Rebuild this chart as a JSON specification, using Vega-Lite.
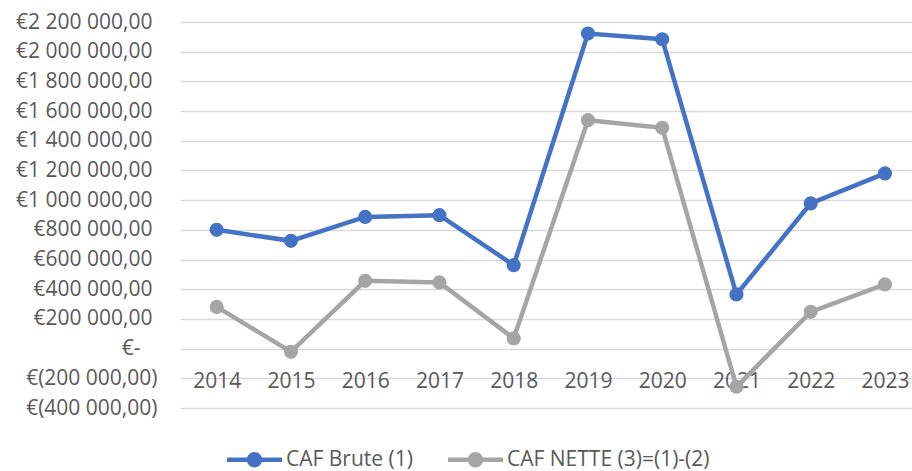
{
  "$schema": "https://vega.github.io/schema/vega-lite/v6.json",
  "width": 732,
  "height": 386,
  "autosize": {"type": "none"},
  "padding": {"left": 180, "top": 22, "right": 0, "bottom": 63},
  "background": "white",
  "config": {"view": {"stroke": null}, "font": "Open Sans"},
  "data": {
    "values": [
      {"year": 2014, "series": "CAF Brute (1)", "value": 800000},
      {"year": 2015, "series": "CAF Brute (1)", "value": 726000},
      {"year": 2016, "series": "CAF Brute (1)", "value": 887000},
      {"year": 2017, "series": "CAF Brute (1)", "value": 899000},
      {"year": 2018, "series": "CAF Brute (1)", "value": 562000},
      {"year": 2019, "series": "CAF Brute (1)", "value": 2122000},
      {"year": 2020, "series": "CAF Brute (1)", "value": 2084000},
      {"year": 2021, "series": "CAF Brute (1)", "value": 365000},
      {"year": 2022, "series": "CAF Brute (1)", "value": 978000},
      {"year": 2023, "series": "CAF Brute (1)", "value": 1180000},
      {"year": 2014, "series": "CAF NETTE (3)=(1)-(2)", "value": 281000},
      {"year": 2015, "series": "CAF NETTE (3)=(1)-(2)", "value": -21500},
      {"year": 2016, "series": "CAF NETTE (3)=(1)-(2)", "value": 456600},
      {"year": 2017, "series": "CAF NETTE (3)=(1)-(2)", "value": 445800},
      {"year": 2018, "series": "CAF NETTE (3)=(1)-(2)", "value": 68700},
      {"year": 2019, "series": "CAF NETTE (3)=(1)-(2)", "value": 1538700},
      {"year": 2020, "series": "CAF NETTE (3)=(1)-(2)", "value": 1487000},
      {"year": 2021, "series": "CAF NETTE (3)=(1)-(2)", "value": -257000},
      {"year": 2022, "series": "CAF NETTE (3)=(1)-(2)", "value": 247800},
      {"year": 2023, "series": "CAF NETTE (3)=(1)-(2)", "value": 432300}
    ]
  },
  "mark": {"type": "line", "strokeWidth": 4.5, "point": {"filled": true, "size": 200}},
  "encoding": {
    "x": {
      "field": "year",
      "type": "quantitative",
      "scale": {"domain": [2013.506, 2023.364], "nice": false, "zero": false},
      "axis": {
        "values": [2014, 2015, 2016, 2017, 2018, 2019, 2020, 2021, 2022, 2023],
        "format": "d",
        "grid": false,
        "domain": false,
        "ticks": false,
        "offset": -38,
        "labelPadding": 0,
        "labelBaseline": "top",
        "labelFontSize": 21,
        "labelColor": "#595959",
        "labelFlush": false,
        "labelOverlap": false,
        "title": null
      }
    },
    "y": {
      "field": "value",
      "type": "quantitative",
      "scale": {"domain": [-400000, 2200000], "nice": false},
      "axis": {
        "values": [-400000, -200000, 0, 200000, 400000, 600000, 800000, 1000000, 1200000, 1400000, 1600000, 1800000, 2000000, 2200000],
        "labelExpr": "datum.value == 0 ? '€-' : (datum.value < 0 ? '€(' + replace(replace(format(-datum.value, ',.2f'), /,/g, ' '), '.', ',') + ')' : '€' + replace(replace(format(datum.value, ',.2f'), /,/g, ' '), '.', ','))",
        "grid": true,
        "gridColor": "#D9D9D9",
        "gridWidth": 1.3,
        "domain": false,
        "ticks": false,
        "labelPadding": {"condition": [{"test": "datum.value == 0", "value": 40}, {"test": "datum.value > 0", "value": 28}], "value": 23},
        "labelFontSize": 21,
        "labelColor": "#595959",
        "labelFlush": false,
        "labelOverlap": false,
        "title": null
      }
    },
    "color": {
      "field": "series",
      "type": "nominal",
      "scale": {"domain": ["CAF Brute (1)", "CAF NETTE (3)=(1)-(2)"], "range": ["#4472C4", "#A5A5A5"]},
      "legend": {
        "orient": "none",
        "legendX": 47,
        "legendY": 410,
        "direction": "horizontal",
        "title": null,
        "labelFontSize": 21,
        "labelColor": "#595959",
        "labelFont": "Open Sans",
        "symbolType": "M-1,-0.085H1V0.085H-1Z M0.28,0A0.28,0.28,0,1,1,-0.28,0A0.28,0.28,0,1,1,0.28,0Z",
        "symbolSize": 3025,
        "symbolStrokeWidth": 0,
        "columnPadding": 35,
        "labelOffset": 4,
        "labelLimit": 400,
        "encode": {
          "symbols": {"update": {"fill": {"scale": "color", "field": "value"}, "strokeWidth": {"value": 0}, "opacity": {"value": 1}}}
        }
      }
    }
  }
}
